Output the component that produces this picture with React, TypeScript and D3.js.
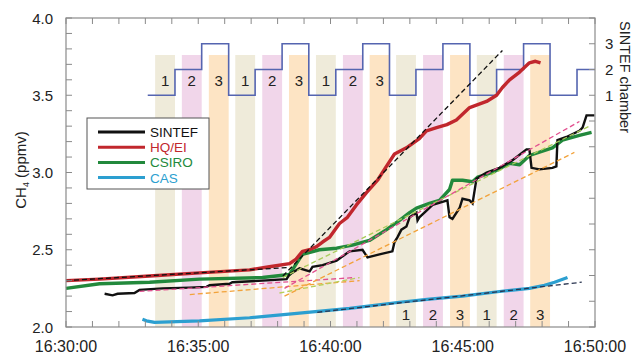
import React from "react"
import * as d3 from "d3"

// all times are minutes after 16:30:00
const bandStart = [3.37, 4.38, 5.40, 6.40, 7.42, 8.43, 9.45, 10.47, 11.48, 12.48, 13.50, 14.52, 15.53, 16.55, 17.55]
const bandEnd = [4.12, 5.13, 6.15, 7.15, 8.17, 9.18, 10.20, 11.22, 12.23, 13.23, 14.25, 15.27, 16.28, 17.30, 18.30]
const bandChamber = [1, 2, 3, 1, 2, 3, 1, 2, 3, 1, 2, 3, 1, 2, 3]

const stepT = [3.09, 4.12, 5.13, 6.15, 7.15, 8.17, 9.18, 10.20, 11.22, 12.23, 13.23, 14.25, 15.27, 16.28, 17.30, 18.30, 19.32, 20]
const stepV = [1, 2, 3, 1, 2, 3, 1, 2, 3, 1, 2, 3, 1, 2, 3, 1, 2, 2]

const hqT = [0, 1.27, 3.16, 5.05, 6.94, 7.69, 8.45, 8.7, 8.94, 9.2, 9.47, 9.7, 9.96, 10.34, 10.64, 10.98, 11.36, 11.78, 12.04, 12.42, 12.87, 13.36, 13.63, 14.01, 14.4, 14.76, 15.26, 15.9, 16.28, 16.5, 16.77, 17.15, 17.52, 17.75, 17.94]
const hqV = [2.30, 2.31, 2.33, 2.35, 2.37, 2.39, 2.41, 2.44, 2.49, 2.50, 2.52, 2.55, 2.58, 2.67, 2.71, 2.79, 2.87, 2.95, 3.02, 3.12, 3.16, 3.22, 3.27, 3.29, 3.31, 3.34, 3.42, 3.46, 3.50, 3.55, 3.60, 3.65, 3.71, 3.72, 3.71]

const csiroT = [0, 1.27, 3.16, 5.05, 7.43, 8.45, 8.71, 8.94, 9.58, 10.23, 10.83, 11.47, 12.12, 12.61, 12.99, 13.25, 13.74, 14.12, 14.50, 14.61, 14.99, 15.37, 15.56, 16.12, 16.77, 17.15, 17.52, 18.39, 18.77, 19.41, 19.87]
const csiroV = [2.25, 2.28, 2.29, 2.31, 2.32, 2.34, 2.41, 2.47, 2.50, 2.51, 2.53, 2.56, 2.63, 2.69, 2.74, 2.77, 2.80, 2.82, 2.89, 2.95, 2.95, 2.94, 2.97, 3.00, 3.06, 3.05, 3.11, 3.16, 3.21, 3.24, 3.26]

const sintefT = [1.46, 1.76, 1.95, 2.59, 2.78, 3.65, 4.67, 5.31, 5.43, 6.18, 6.29, 7.43, 8.34, 8.45, 8.83, 9.21, 9.32, 9.70, 10.23, 10.72, 11.21, 11.40, 11.85, 12.34, 12.42, 12.53, 12.68, 12.87, 12.99, 13.25, 13.29, 13.36, 13.86, 14.42, 14.50, 14.61, 14.88, 14.99, 15.26, 15.37, 15.52, 15.90, 16.39, 16.88, 17.41, 17.52, 17.60, 17.90, 18.39, 18.54, 18.58, 18.92, 19.41, 19.53, 19.68, 19.98]
const sintefV = [2.215, 2.205, 2.215, 2.22, 2.24, 2.25, 2.255, 2.26, 2.27, 2.28, 2.29, 2.30, 2.31, 2.34, 2.38, 2.36, 2.39, 2.40, 2.43, 2.49, 2.50, 2.45, 2.47, 2.49, 2.55, 2.58, 2.63, 2.65, 2.71, 2.74, 2.69, 2.71, 2.79, 2.82, 2.71, 2.70, 2.77, 2.83, 2.82, 2.80, 2.96, 3.00, 3.03, 3.08, 3.15, 3.15, 3.03, 3.02, 3.03, 3.04, 3.21, 3.23, 3.27, 3.29, 3.37, 3.37]

const casT = [2.89, 3.04, 3.35, 5.05, 6.94, 8.83, 10.72, 12.61, 13.74, 14.99, 16.39, 17.52, 18.09, 18.47, 18.96]
const casV = [2.05, 2.04, 2.03, 2.04, 2.06, 2.09, 2.12, 2.16, 2.18, 2.20, 2.23, 2.25, 2.27, 2.29, 2.32]

// linear fits, [start, end] as [minute, ppmv]
const hqFitEarly = [[0, 2.30], [8.4, 2.385]]
const hqFitLate = [[8.2, 2.33], [16.5, 3.79]]
const casFit = [[9.5, 2.095], [19.5, 2.29]]
const fit2Early = [[2.78, 2.23], [10.91, 2.32]]
const fit2Late = [[8.26, 2.25], [19.41, 3.33]]
const fit3Early = [[4.68, 2.21], [11.1, 2.30]]
const fit3Late = [[8.26, 2.20], [19.22, 3.13]]
const fit1Early = [[8.07, 2.22], [11.1, 2.32]]
const fit1Late = [[8.19, 2.32], [19.79, 3.30]]

const series = ["SINTEF", "HQ/EI", "CSIRO", "CAS"]
const seriesColor = ["#111111", "#c1272d", "#22893c", "#2c9fd0"]
const chamberLabels = [1, 2, 3]
const bandColor = { 1: "#efebda", 2: "#f1d6ea", 3: "#fde4c4" }

const font = "'Liberation Sans', Arial, Helvetica, sans-serif"

export default function App() {
  const margin = { left: 66, right: 595, top: 18, bottom: 327 }
  const base = new Date(2000, 0, 1, 16, 30, 0).getTime()
  const toDate = (m: number) => new Date(base + m * 60000)

  const x = d3.scaleTime().domain([toDate(0), toDate(20)]).range([margin.left, margin.right])
  const y = d3.scaleLinear().domain([2, 4]).range([margin.bottom, margin.top])
  const y2 = d3.scaleLinear().domain([-8, 4]).range([margin.bottom, margin.top])

  const line = d3.line<number[]>().x(d => x(toDate(d[0]))).y(d => y(d[1]))
  const zip = (t: number[], v: number[]) => t.map((d, i) => [d, v[i]])
  const stepLine = d3.line<number[]>().x(d => x(toDate(d[0]))).y(d => y2(d[1])).curve(d3.curveStepAfter)

  const minorX = x.ticks(d3.timeMinute.every(1))
  const majorX = x.ticks(d3.timeMinute.every(5))
  const fmt = d3.timeFormat("%H:%M:%S")
  const minorY = y.ticks(20)
  const majorY = y.ticks(4)
  const rightTicks = y2.ticks(12)
  const tk = 6
  const axisColor = "#8a8a8a"

  const fits = [
    { d: fit3Early, c: "#f2a23a" },
    { d: fit1Early, c: "#b7cf5a" },
    { d: fit2Early, c: "#e2508f" },
    { d: fit3Late, c: "#f2a23a" },
    { d: fit1Late, c: "#a9cc5a" },
    { d: fit2Late, c: "#e2508f" },
    { d: hqFitEarly, c: "#111" },
    { d: hqFitLate, c: "#111" },
    { d: casFit, c: "#2a3550" },
  ]

  const legY = (i: number) => 132 + i * 15.2

  return (
    <svg width={635} height={357} style={{ position: "absolute", left: 0, top: 0, fontFamily: font }}>
      <rect width={635} height={357} fill="#fff" />
      {bandStart.map((s, i) => (
        <rect key={"b" + i} x={x(toDate(s))} y={55} width={x(toDate(bandEnd[i])) - x(toDate(s))}
          height={margin.bottom - 55} fill={bandColor[bandChamber[i]]} />
      ))}
      {bandStart.map((s, i) => (
        <text key={"bl" + i} x={(x(toDate(s)) + x(toDate(bandEnd[i]))) / 2} y={i < 9 ? 86 : 320}
          textAnchor="middle" fontSize={15} fill="#222">{bandChamber[i]}</text>
      ))}
      <path d={stepLine(zip(stepT, stepV)) || ""} fill="none" stroke="#5565b0" strokeWidth={1.6} />

      <path d={line(zip(casT, casV)) || ""} fill="none" stroke={seriesColor[3]} strokeWidth={3.2} strokeLinejoin="round" />
      <path d={line(zip(csiroT, csiroV)) || ""} fill="none" stroke={seriesColor[2]} strokeWidth={3.4} strokeLinejoin="round" />
      <path d={line(zip(hqT, hqV)) || ""} fill="none" stroke={seriesColor[1]} strokeWidth={3.4} strokeLinejoin="round" />
      <path d={line(zip(sintefT, sintefV)) || ""} fill="none" stroke={seriesColor[0]} strokeWidth={2.4} />

      {fits.map((f, i) => (
        <path key={"f" + i} d={line(f.d) || ""} fill="none" stroke={f.c} strokeWidth={1.3} strokeDasharray="5,3" />
      ))}

      {/* frame */}
      <rect x={margin.left} y={margin.top} width={margin.right - margin.left} height={margin.bottom - margin.top}
        fill="none" stroke={axisColor} strokeWidth={1.2} />
      {minorX.map((t, i) => (
        <g key={"xt" + i} stroke={axisColor}>
          <line x1={x(t)} x2={x(t)} y1={margin.bottom} y2={margin.bottom - tk} />
          <line x1={x(t)} x2={x(t)} y1={margin.top} y2={margin.top + tk} />
        </g>
      ))}
      {majorX.map((t, i) => (
        <text key={"xl" + i} x={x(t)} y={352} textAnchor="middle" fontSize={16} fill="#222">{fmt(t)}</text>
      ))}
      {minorY.map((v, i) => (
        <line key={"yt" + i} x1={margin.left} x2={margin.left + tk} y1={y(v)} y2={y(v)} stroke={axisColor} />
      ))}
      {majorY.map((v, i) => (
        <text key={"yl" + i} x={53} y={y(v) + 5.5} textAnchor="end" fontSize={15} fill="#222">{d3.format(".1f")(v)}</text>
      ))}
      {rightTicks.map((v, i) => (
        <line key={"rt" + i} x1={margin.right} x2={margin.right - tk} y1={y2(v)} y2={y2(v)} stroke={axisColor} />
      ))}
      {chamberLabels.map(v => (
        <text key={"rl" + v} x={605} y={y2(v) + 5.5} fontSize={15} fill="#222">{v}</text>
      ))}
      <text transform="translate(620,77) rotate(90)" textAnchor="middle" fontSize={14.5} fill="#222">SINTEF chamber</text>
      <text transform="translate(26,170) rotate(-90)" textAnchor="middle" fontSize={15} fill="#222">
        CH<tspan fontSize={9} dy={3}>4</tspan><tspan dy={-3}> (ppmv)</tspan>
      </text>

      {/* legend */}
      <rect x={87} y={118} width={122} height={71} fill="#fff" stroke="#555" strokeWidth={1} />
      {series.map((s, i) => (
        <g key={"lg" + i}>
          <line x1={98} x2={145} y1={legY(i)} y2={legY(i)} stroke={seriesColor[i]} strokeWidth={3} />
          <text x={150} y={legY(i) + 5} fontSize={13.5} fill={seriesColor[i]}>{s}</text>
        </g>
      ))}
    </svg>
  )
}
